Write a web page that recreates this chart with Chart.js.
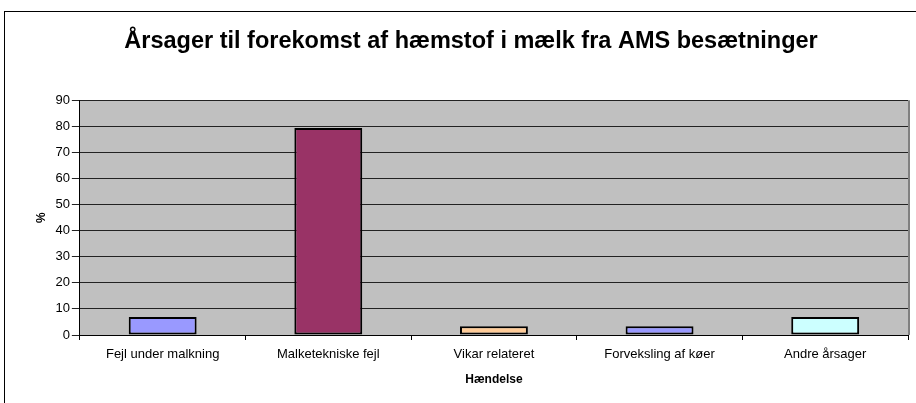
<!DOCTYPE html>
<html lang="da">
<head>
  <meta charset="UTF-8">
  <title>Årsager til forekomst af hæmstof i mælk fra AMS besætninger</title>
  <script src="https://cdn.jsdelivr.net/npm/chart.js"></script>
  <style>
    body {
      margin: 0;
      padding: 0;
      background: #ffffff;
    }
    .wrap {
      width: 916px;
      height: 403px;
    }
  </style>
</head>
<body>
  <div class="wrap">
    <canvas id="chart" width="916" height="403"></canvas>
  </div>

  <script>
    // Data (%)
    const categories = ['Fejl under malkning', 'Malketekniske fejl', 'Vikar relateret', 'Forveksling af køer', 'Andre årsager'];
    const values = [6.9, 79.3, 3.4, 3.4, 6.9];
    const barColors = ['#9999FF', '#993366', '#FFCC99', '#9999FF', '#CCFFFF'];
    const yTicks = [0, 10, 20, 30, 40, 50, 60, 70, 80, 90];

    const FONT = 'Arial, "Liberation Sans", sans-serif';

    // grey plot area + outer frame like the old Excel chart
    const excelLook = {
      id: 'excelLook',
      beforeDraw(chart) {
        const ctx = chart.ctx;
        const a = chart.chartArea;
        ctx.save();
        ctx.strokeStyle = '#000';
        ctx.lineWidth = 1;
        ctx.strokeRect(4.5, 11.5, 1000, 1000);
        ctx.fillStyle = '#C0C0C0';
        ctx.fillRect(a.left, a.top, a.right - a.left, a.bottom - a.top);
        ctx.restore();
      },
      afterDatasetsDraw(chart) {
        const ctx = chart.ctx;
        const a = chart.chartArea;
        ctx.save();
        ctx.strokeStyle = '#808080';
        ctx.lineWidth = 2;
        ctx.beginPath();
        ctx.moveTo(a.right + 1, a.top);
        ctx.lineTo(a.right + 1, a.bottom);
        ctx.stroke();
        ctx.restore();
      }
    };

    const chart = new Chart(document.getElementById('chart'), {
      type: 'bar',
      data: {
        labels: categories,
        datasets: [{
          data: values,
          backgroundColor: barColors,
          borderColor: '#000',
          borderWidth: 2,
          borderSkipped: false,
          categoryPercentage: 0.41,
          barPercentage: 1
        }]
      },
      options: {
        responsive: false,
        animation: false,
        layout: {
          padding: { top: 18, right: 8, bottom: 16, left: 34 }
        },
        plugins: {
          legend: { display: false },
          tooltip: { enabled: false },
          title: {
            display: true,
            text: 'Årsager til forekomst af hæmstof i mælk fra AMS besætninger',
            color: '#000',
            font: { family: FONT, size: 23.5, weight: 'bold' },
            padding: { top: 9, bottom: 45 }
          }
        },
        scales: {
          x: {
            grid: {
              display: true,
              drawOnChartArea: false,
              color: '#000',
              tickLength: 5,
              offset: true
            },
            border: { color: '#000', width: 1 },
            ticks: {
              color: '#000',
              font: { family: FONT, size: 13 },
              maxRotation: 0,
              padding: 7
            },
            title: {
              display: true,
              text: 'Hændelse',
              color: '#000',
              font: { family: FONT, size: 12, weight: 'bold' },
              padding: { top: 3, bottom: 0 }
            }
          },
          y: {
            min: 0,
            max: 90,
            afterBuildTicks(axis) {
              axis.ticks = yTicks.map(v => ({ value: v }));
            },
            grid: {
              color: '#222',
              tickLength: 8,
              drawTicks: true
            },
            border: { color: '#000', width: 1 },
            ticks: {
              color: '#000',
              font: { family: FONT, size: 13 },
              padding: 2
            },
            title: {
              display: true,
              text: '%',
              color: '#000',
              font: { family: FONT, size: 12, weight: 'bold' },
              padding: { top: 0, bottom: 5 }
            }
          }
        }
      },
      plugins: [excelLook]
    });
  </script>
</body>
</html>
